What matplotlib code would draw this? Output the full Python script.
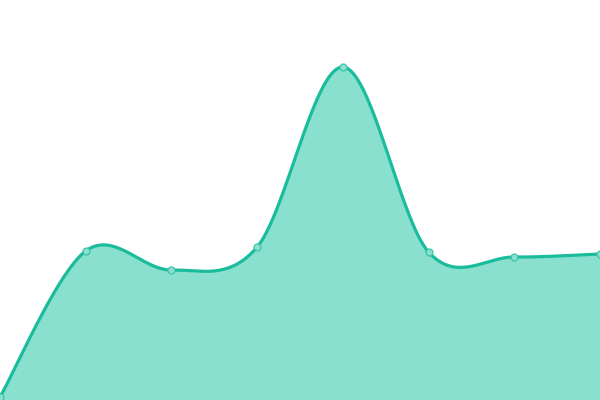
import matplotlib
matplotlib.use('Agg')
import matplotlib.pyplot as plt
import numpy as np

# data
cats = np.arange(8)
vals = [0, 146, 127, 150, 330, 145, 140, 143]

line_col = '#1abc9c'
fill_col = '#8ae0ce'


def catmull(xs, ys, n=40):
    # parametric catmull-rom through the points
    p = np.column_stack([xs, ys]).astype(float)
    p = np.vstack([p[0], p, p[-1]])
    out = []
    for i in range(1, len(p) - 2):
        p0, p1, p2, p3 = p[i - 1], p[i], p[i + 1], p[i + 2]
        c1 = p1 + (p2 - p0) / 6
        c2 = p2 - (p3 - p1) / 6
        t = np.linspace(0, 1, n)[:, None]
        seg = ((1 - t) ** 3) * p1 + 3 * ((1 - t) ** 2) * t * c1 + 3 * (1 - t) * t ** 2 * c2 + t ** 3 * p2
        out.append(seg if i == 1 else seg[1:])
    out = np.vstack(out)
    return out[:, 0], out[:, 1]


sx, sy = catmull(cats, vals)

fig = plt.figure(figsize=(6, 4), dpi=100)
ax = fig.add_axes([0, 0, 1, 1])
ax.fill_between(sx, sy, -10, color=fill_col, lw=0)
ax.plot(sx, sy, color=line_col, lw=2.3, solid_capstyle='round')
ax.plot(cats, vals, 'o', ms=5, mfc=fill_col, mec='#3cc4a8', mew=0.9)
ax.set_xlim(0, 7)
ax.set_ylim(-3, 397)
ax.axis('off')
fig.savefig('out.png', dpi=100)
